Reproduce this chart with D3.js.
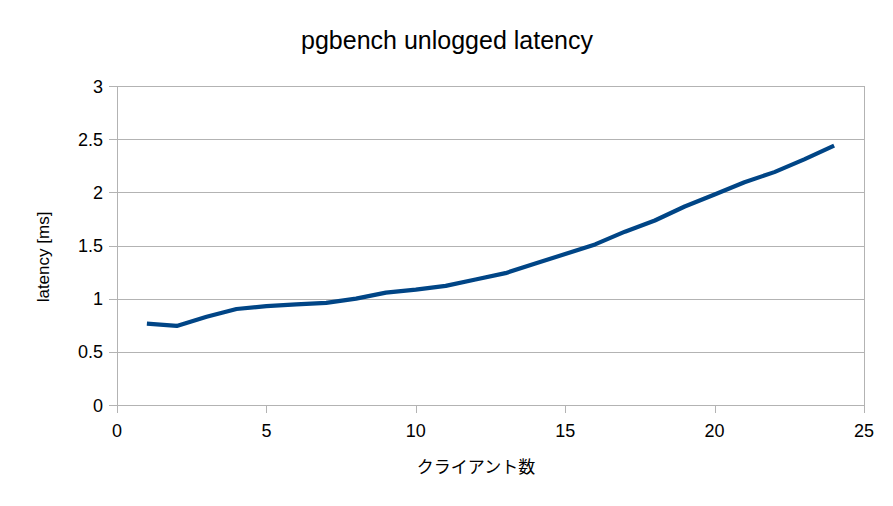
<!DOCTYPE html>
<html>
<head>
<meta charset="utf-8">
<script src="https://cdn.jsdelivr.net/npm/d3@7"></script>
<style>
  body { margin: 0; background: #fff; }
  text { font-family: "Liberation Sans", Arial, sans-serif; }
</style>
</head>
<body>
<div class="chart"></div>
<script>
var width = 893;
var height = 506;
var margin = {top: 86, right: 29, bottom: 101, left: 117};

// clients 1..24 and measured latency (ms)
var clients = [1, 2, 3, 4, 5, 6, 7, 8, 9, 10, 11, 12, 13, 14, 15, 16, 17, 18, 19, 20, 21, 22, 23, 24];
var latency = [0.766, 0.744, 0.83, 0.903, 0.93, 0.947, 0.96, 1.0, 1.057, 1.085, 1.12, 1.18,
               1.24, 1.33, 1.42, 1.51, 1.63, 1.735, 1.867, 1.98, 2.095, 2.19, 2.31, 2.44];
var xTicks = [0, 5, 10, 15, 20, 25];
var yTicks = [0, 0.5, 1, 1.5, 2, 2.5, 3];

var points = clients.map(function(c, i) { return {x: c, y: latency[i]}; });

var svg = d3.select(".chart").append("svg")
            .attr("width", width)
            .attr("height", height);

var x = d3.scaleLinear().domain([0, 25]).range([margin.left, width - margin.right]);
var y = d3.scaleLinear().domain([0, 3]).range([height - margin.bottom, margin.top]);

// grid
svg.append("g").selectAll("line")
   .data(yTicks)
   .enter().append("line")
   .attr("x1", margin.left - 8)
   .attr("x2", width - margin.right)
   .attr("y1", function(d) { return Math.round(y(d)) + 0.5; })
   .attr("y2", function(d) { return Math.round(y(d)) + 0.5; })
   .style("stroke", "#b3b3b3")
   .style("stroke-width", 1);

// vertical borders
svg.append("line")
   .attr("x1", Math.round(x(0)) + 0.5).attr("x2", Math.round(x(0)) + 0.5)
   .attr("y1", y(3)).attr("y2", y(0) + 8)
   .style("stroke", "#b3b3b3");
svg.append("line")
   .attr("x1", Math.round(x(25)) + 0.5).attr("x2", Math.round(x(25)) + 0.5)
   .attr("y1", y(3)).attr("y2", y(0) + 8)
   .style("stroke", "#b3b3b3");

// x ticks
svg.append("g").selectAll("line")
   .data(xTicks)
   .enter().append("line")
   .attr("x1", function(d) { return Math.round(x(d)) + 0.5; })
   .attr("x2", function(d) { return Math.round(x(d)) + 0.5; })
   .attr("y1", y(0))
   .attr("y2", y(0) + 8)
   .style("stroke", "#b3b3b3");

svg.append("g").selectAll("text")
   .data(xTicks)
   .enter().append("text")
   .attr("x", function(d) { return x(d); })
   .attr("y", y(0) + 32)
   .attr("text-anchor", "middle")
   .style("font-size", "18px")
   .text(function(d) { return d; });

svg.append("g").selectAll("text")
   .data(yTicks)
   .enter().append("text")
   .attr("x", margin.left - 14)
   .attr("y", function(d) { return y(d) + 6.5; })
   .attr("text-anchor", "end")
   .style("font-size", "18px")
   .text(function(d) { return d; });

// line
var line = d3.line()
             .x(function(d) { return x(d.x); })
             .y(function(d) { return y(d.y); });

svg.append("path")
   .datum(points)
   .attr("d", line)
   .style("fill", "none")
   .style("stroke", "#004586")
   .style("stroke-width", 4.2)
   .style("stroke-linejoin", "round");

// titles
svg.append("text")
   .attr("x", 447)
   .attr("y", 49)
   .attr("text-anchor", "middle")
   .style("font-size", "25px")
   .text("pgbench unlogged latency");

svg.append("text")
   .attr("x", 476)
   .attr("y", 473)
   .attr("text-anchor", "middle")
   .style("font-size", "17px")
   .style("font-family", "'Noto Sans CJK JP', sans-serif")
   .text("クライアント数");

svg.append("text")
   .attr("transform", "translate(49,257) rotate(-90)")
   .attr("text-anchor", "middle")
   .style("font-size", "17px")
   .text("latency [ms]");
</script>
</body>
</html>
